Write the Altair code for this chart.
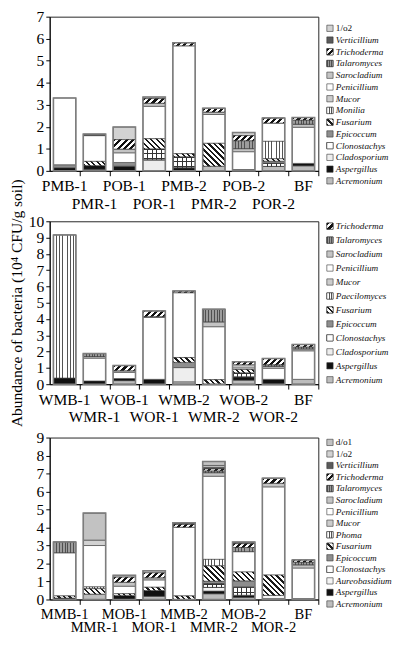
import math
import altair as alt
import pandas as pd

FONT = "Liberation Serif"

# ---------------- data ----------------
p1_samples = ["PMB-1", "PMR-1", "POB-1", "POR-1", "PMB-2", "PMR-2", "POB-2", "POR-2", "BF"]
p1_species = ["Acremonium", "Aspergillus", "Cladosporium", "Clonostachys", "Epicoccum", "Fusarium",
              "Monilia", "Mucor", "Penicillium", "Sarocladium", "Talaromyces", "Trichoderma",
              "Verticillium", "1/o2"]
p1_values = {
    "Acremonium":   [0, 0.07, 0, 0, 0, 0.21, 0, 0.20, 0.23],
    "Aspergillus":  [0.14, 0.17, 0.21, 0, 0.14, 0, 0.06, 0, 0.11],
    "Cladosporium": [0, 0, 0, 0.50, 0, 0, 0, 0, 0],
    "Clonostachys": [0, 0, 0, 0.50, 0.50, 0, 0, 0.14, 0],
    "Epicoccum":    [0.14, 0, 0.17, 0, 0, 0, 0, 0.10, 0],
    "Fusarium":     [0, 0.19, 0, 0.46, 0.14, 1.04, 0, 0.11, 0],
    "Monilia":      [0, 0, 0, 0, 0, 0, 0, 0.79, 0],
    "Mucor":        [0, 0, 0, 0, 0, 0, 0, 0, 0],
    "Penicillium":  [3.03, 1.17, 0.44, 1.47, 4.90, 1.31, 0.81, 0.83, 1.64],
    "Sarocladium":  [0, 0, 0.17, 0.14, 0, 0.11, 0.14, 0, 0.14],
    "Talaromyces":  [0, 0, 0, 0, 0, 0, 0.36, 0, 0.19],
    "Trichoderma":  [0, 0, 0.43, 0.21, 0.14, 0.17, 0.23, 0.23, 0.11],
    "Verticillium": [0, 0.07, 0, 0, 0, 0, 0, 0, 0],
    "1/o2":         [0, 0, 0.57, 0.07, 0, 0, 0.14, 0, 0],
}

p2_samples = ["WMB-1", "WMR-1", "WOB-1", "WOR-1", "WMB-2", "WMR-2", "WOB-2", "WOR-2", "BF"]
p2_species = ["Acremonium", "Aspergillus", "Cladosporium", "Clonostachys", "Epicoccum", "Fusarium",
              "Paecilomyces", "Mucor", "Penicillium", "Sarocladium", "Talaromyces", "Trichoderma"]
p2_values = {
    "Acremonium":   [0, 0, 0.22, 0, 0.15, 0, 0.25, 0, 0.30],
    "Aspergillus":  [0.38, 0.20, 0.13, 0.30, 0, 0, 0.20, 0.30, 0],
    "Cladosporium": [0, 0, 0, 0, 0.87, 0, 0, 0, 0],
    "Clonostachys": [0, 0, 0, 0, 0, 0, 0.25, 0, 0],
    "Epicoccum":    [0, 0, 0, 0, 0.32, 0, 0, 0, 0],
    "Fusarium":     [0, 0, 0, 0, 0.30, 0.28, 0.20, 0, 0],
    "Paecilomyces": [8.78, 0, 0, 0, 0, 0, 0, 0, 0],
    "Mucor":        [0, 0, 0, 0, 0, 0, 0, 0, 0],
    "Penicillium":  [0, 1.40, 0.38, 3.80, 3.98, 3.25, 0.10, 0.68, 1.75],
    "Sarocladium":  [0, 0.10, 0.10, 0.05, 0, 0.30, 0.20, 0.12, 0.12],
    "Talaromyces":  [0, 0.18, 0, 0, 0, 0.77, 0, 0.10, 0.12],
    "Trichoderma":  [0, 0, 0.32, 0.35, 0.10, 0, 0.18, 0.38, 0.15],
}

p3_samples = ["MMB-1", "MMR-1", "MOB-1", "MOR-1", "MMB-2", "MMR-2", "MOB-2", "MOR-2", "BF"]
p3_species = ["Acremonium", "Aspergillus", "Aureobasidium", "Clonostachys", "Epicoccum", "Fusarium",
              "Phoma", "Mucor", "Penicillium", "Sarocladium", "Talaromyces", "Trichoderma",
              "Verticillium", "1/o2", "d/o1"]
p3_values = {
    "Acremonium":    [0, 0.30, 0, 0.18, 0, 0.32, 0.12, 0.05, 0],
    "Aspergillus":   [0.08, 0, 0.22, 0.32, 0, 0.15, 0.11, 0, 0.05],
    "Aureobasidium": [0, 0, 0, 0, 0, 0.20, 0, 0.18, 0],
    "Clonostachys":  [0, 0, 0, 0, 0, 0.20, 0.45, 0, 0],
    "Epicoccum":     [0, 0, 0, 0, 0, 0.15, 0.36, 0, 0],
    "Fusarium":      [0.12, 0.30, 0.10, 0.18, 0.20, 0.85, 0.49, 1.13, 0],
    "Phoma":         [0, 0.10, 0, 0, 0, 0.36, 0, 0, 0],
    "Mucor":         [0, 0, 0, 0, 0, 0, 0, 0, 0],
    "Penicillium":   [2.40, 2.30, 0.42, 0.41, 3.82, 4.62, 1.13, 4.90, 1.70],
    "Sarocladium":   [0, 0, 0.22, 0.12, 0, 0.20, 0, 0.20, 0.18],
    "Talaromyces":   [0.60, 0, 0, 0, 0, 0.10, 0.23, 0, 0.15],
    "Trichoderma":   [0, 0, 0.28, 0.27, 0.15, 0.10, 0.21, 0.28, 0.12],
    "Verticillium":  [0, 0, 0, 0, 0.10, 0.10, 0.10, 0, 0],
    "1/o2":          [0, 0.30, 0.10, 0.12, 0, 0.10, 0, 0, 0],
    "d/o1":          [0, 1.50, 0, 0, 0, 0.22, 0, 0, 0],
}

Y_TITLE = "Abundance of bacteria (10\u2074 CFU/g soil)"

# ---------------- styles ----------------
BASE = {
    "Acremonium": "#bdbdbd", "Aspergillus": "#111111", "Cladosporium": "#eeeeee",
    "Aureobasidium": "#f4f4f4", "Clonostachys": "#ffffff", "Epicoccum": "#8e8e8e",
    "Fusarium": "#ffffff", "Monilia": "#ffffff", "Paecilomyces": "#ffffff", "Phoma": "#ffffff",
    "Mucor": "#cccccc", "Penicillium": "#ffffff", "Sarocladium": "#c4c4c4",
    "Talaromyces": "#9c9c9c", "Trichoderma": "#ffffff", "Verticillium": "#5a5a5a",
    "1/o2": "#d2d2d2", "d/o1": "#c2c2c2",
}
ALL_SPECIES = list(BASE.keys())
ALL_COLORS = [BASE[s] for s in ALL_SPECIES]
VERT = {  # line colour, background, pitch, duty
    "Monilia": ("#555555", "#ffffff", 3.0, 0.3),
    "Paecilomyces": ("#555555", "#ffffff", 3.0, 0.3),
    "Phoma": ("#555555", "#ffffff", 3.0, 0.3),
    "Talaromyces": ("#505050", "#9c9c9c", 3.0, 0.35),
    "Clonostachys": ("#333333", "#ffffff", 4.6, 0.22),
}
HORIZ = {"Clonostachys": ("#333333", 4.6, 0.22)}
DIAG = {  # kind, line, background, pitch, duty
    "Fusarium": ("bdiag", "#1a1a1a", "#ffffff", 4.0, 0.42),
    "Trichoderma": ("fdiag", "#111111", "#ffffff", 4.5, 0.5),
}
CLEAR = "rgba(255,255,255,0)"


def stripe_stops(line, bg, n, duty):
    s = []
    for i in range(n):
        a, b, c = i / n, (i + duty) / n, (i + 1) / n
        s += [{"offset": round(a, 5), "color": line}, {"offset": round(b, 5), "color": line},
              {"offset": round(b, 5), "color": bg}, {"offset": round(c, 5), "color": bg}]
    return s


def vert_grad(sp, w):
    line, bg, pitch, duty = VERT[sp]
    n = max(1, round(w / pitch))
    return {"gradient": "linear", "x1": 0, "y1": 0, "x2": 1, "y2": 0,
            "stops": stripe_stops(line, bg, n, duty)}


def horiz_grad(sp, h):
    line, pitch, duty = HORIZ[sp]
    n = max(1, math.ceil(h / pitch))
    return {"gradient": "linear", "x1": 0, "y1": 0, "x2": 0, "y2": round(n * pitch / h, 5),
            "stops": stripe_stops(line, CLEAR, n, duty)}


def diag_grad(sp, w, h):
    kind, line, bg, pitch, duty = DIAG[sp]
    n = max(1, math.ceil((w + h) / (math.sqrt(2) * pitch)))
    k = math.sqrt(2) * n * pitch
    d = w * w + h * h
    x2, y2 = k * w / d, k * h / d
    g = {"gradient": "linear", "x1": 0, "y1": 0, "x2": round(x2, 5), "y2": round(y2, 5),
         "stops": stripe_stops(line, bg, n, duty)}
    if kind == "bdiag":
        g["y1"] = 1
        g["y2"] = round(1 - y2, 5)
    return g


W = 277


def panel(samples, species, values, ymax, H, row1_off, row2_off, lab_size, ytitle=None):
    rows = []
    for i, s in enumerate(samples):
        for k, sp in enumerate(species):
            v = values[sp][i]
            if v > 0:
                rows.append({"sample": s, "species": sp, "ord": k, "value": v})
    df = pd.DataFrame(rows)
    bw = W / 9 * 0.75
    step = W / 9
    ppu = H / ymax
    xenc = alt.X(
        "sample:N", sort=samples,
        scale=alt.Scale(paddingInner=0.25, paddingOuter=0.125),
        axis=alt.Axis(title=None, labels=False, tickSize=5, tickOffset=step / 2),
    )
    yaxis = alt.Axis(values=list(range(ymax + 1)), tickSize=4, labelPadding=2, labelFontSize=16,
                     grid=False, title=ytitle, titleFontSize=16, titleFontWeight="normal",
                     titlePadding=4)
    yscale = alt.Scale(domain=[0, ymax], nice=False, zero=True)
    yenc = alt.Y("y0:Q", scale=yscale, axis=yaxis)
    base = alt.Chart(df).transform_stack(
        stack="value", groupby=["sample"], sort=[alt.SortField("ord", order="ascending")],
        as_=["y0", "y1"],
    )
    layers = [base.mark_bar(stroke="#3a3a3a", strokeWidth=0.6).encode(
        x=xenc, y=yenc, y2="y1:Q",
        color=alt.Color("species:N", legend=None,
                        scale=alt.Scale(domain=ALL_SPECIES, range=ALL_COLORS)),
    )]
    present = set(df["species"])
    for sp in species:
        if sp in VERT and sp in present:
            layers.append(base.transform_filter(alt.datum.species == sp).mark_bar(
                fill=vert_grad(sp, bw), stroke="#3a3a3a", strokeWidth=0.6,
            ).encode(x=xenc, y=yenc, y2="y1:Q"))
    for r in rows:
        sp = r["species"]
        h = r["value"] * ppu
        grad = None
        if sp in DIAG:
            grad = diag_grad(sp, bw, h)
        elif sp in HORIZ:
            grad = horiz_grad(sp, h)
        if grad is None:
            continue
        layers.append(base.transform_filter(
            (alt.datum.sample == r["sample"]) & (alt.datum.species == sp)
        ).mark_bar(fill=grad, stroke="#3a3a3a", strokeWidth=0.6).encode(x=xenc, y=yenc, y2="y1:Q"))
    layers.append(alt.Chart(df).mark_bar(filled=False, stroke="#7d7d7d", strokeWidth=1.6).encode(
        x=xenc, y=alt.Y("sum(value):Q", scale=yscale, axis=yaxis)))
    # sample labels in two staggered rows under the axis
    lab = pd.DataFrame({"sample": samples, "row": [i % 2 for i in range(len(samples))]})
    for rr, off in ((0, row1_off), (1, row2_off)):
        layers.append(alt.Chart(lab).transform_filter(alt.datum.row == rr).mark_text(
            font=FONT, fontSize=lab_size, baseline="middle", align="center", color="#000000",
        ).encode(x=xenc, y=alt.value(H + off), text="sample:N"))
    return alt.layer(*layers).properties(width=W, height=H)


def legend(species, H, first, step, width=56):
    order = list(reversed(species))
    ldf = pd.DataFrame({
        "species": order,
        "idx": list(range(len(order))),
        "italic": [s not in ("1/o2", "d/o1") for s in order],
    })
    d0 = -first / step
    d1 = d0 + H / step
    yenc = alt.Y("idx:Q", scale=alt.Scale(domain=[d0, d1], reverse=True, nice=False, zero=False),
                 axis=None)
    base = alt.Chart(ldf)
    sw_w = 6.5
    layers = [base.mark_square(size=42, opacity=1, stroke="#333333", strokeWidth=0.6).encode(
        x=alt.value(3), y=yenc,
        fill=alt.Fill("species:N", legend=None,
                      scale=alt.Scale(domain=ALL_SPECIES, range=ALL_COLORS)),
    )]
    for sp in order:
        grad = None
        if sp in DIAG:
            grad = diag_grad(sp, sw_w, sw_w)
        elif sp in VERT:
            line, bg, pitch, duty = VERT[sp]
            grad = {"gradient": "linear", "x1": 0, "y1": 0, "x2": 1, "y2": 0,
                    "stops": stripe_stops(line, bg, 3, duty)}
        if grad is None:
            continue
        layers.append(base.transform_filter(alt.datum.species == sp).mark_square(
            size=42, opacity=1, fill=grad, stroke="#333333", strokeWidth=0.6,
        ).encode(x=alt.value(3), y=yenc))
    layers.append(base.transform_filter("datum.italic").mark_text(
        align="left", baseline="middle", font=FONT, fontSize=9.5, fontStyle="italic", color="#111111",
    ).encode(x=alt.value(9), y=yenc, text="species:N"))
    layers.append(base.transform_filter("!datum.italic").mark_text(
        align="left", baseline="middle", font=FONT, fontSize=9.5, color="#111111",
    ).encode(x=alt.value(9), y=yenc, text="species:N"))
    return alt.layer(*layers).properties(
        width=width, height=H, view=alt.ViewBackground(stroke="transparent"))


H1, H2, H3 = 159, 168, 167
row1 = alt.hconcat(panel(p1_samples, p1_species, p1_values, 7, H1, 16, 34, 16),
                   legend(p1_species, H1, 12, 12.1), spacing=6)
row2 = alt.hconcat(panel(p2_samples, p2_species, p2_values, 10, H2, 16, 34, 16, Y_TITLE),
                   legend(p2_species, H2, 5, 14.4), spacing=6)
row3 = alt.hconcat(panel(p3_samples, p3_species, p3_values, 9, H3, 15, 29, 15),
                   legend(p3_species, H3, 5, 11.9), spacing=6)

upper = alt.vconcat(row1, row2, spacing=-36)
chart = alt.vconcat(upper, row3, spacing=1).properties(
    padding={"top": -10, "bottom": 0, "left": 0, "right": 0}, background="white"
).configure_view(stroke="#222222", strokeWidth=1).configure_axis(
    labelFont=FONT, titleFont=FONT, labelColor="#000000", titleColor="#000000",
    domainColor="#000000", tickColor="#000000",
)

chart.save("out.html", embed_options={"renderer": "svg", "actions": False})
